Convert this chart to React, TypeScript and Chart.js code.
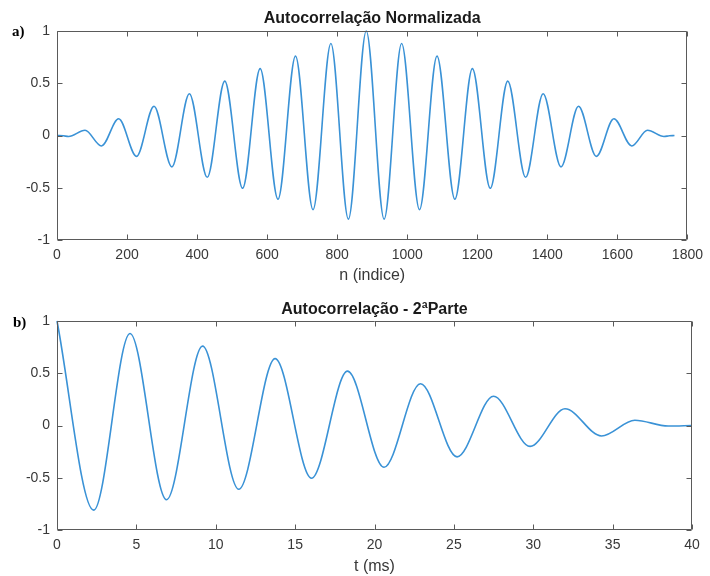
import React, { useEffect, useRef } from "react";
import { Chart, registerables } from "chart.js";

Chart.register(...registerables);

// ---- Data ----
// Panel a) Autocorrelação Normalizada: sample index n vs normalized autocorrelation
const nIndex = [
  0, 18, 33, 80, 127, 176, 227, 277, 328, 378, 429, 479, 530, 580, 631, 681, 731,
  782, 832, 883, 934, 984, 1035, 1085, 1136, 1186, 1237, 1287, 1338, 1388, 1439,
  1489, 1540, 1590, 1641, 1686, 1733, 1748, 1763,
];
const acNorm = [
  0, -0.003, -0.01, 0.05, -0.1, 0.16, -0.2, 0.28, -0.3, 0.4, -0.4, 0.52, -0.505,
  0.64, -0.61, 0.76, -0.71, 0.88, -0.8, 1.0, -0.8, 0.88, -0.71, 0.76, -0.61, 0.64,
  -0.505, 0.52, -0.4, 0.4, -0.3, 0.28, -0.2, 0.16, -0.1, 0.05, -0.01, -0.003, 0,
];

// Panel b) Autocorrelação - 2ªParte: time in ms vs autocorrelation
const tMs = [
  0, 2.31, 4.6, 6.9, 9.17, 11.45, 13.74, 16.03, 18.3, 20.6, 22.9, 25.2, 27.5, 29.8,
  32.0, 34.3, 36.4, 38.5, 40,
];
const acPart2 = [
  1.0, -0.81, 0.88, -0.71, 0.76, -0.61, 0.64, -0.505, 0.52, -0.4, 0.4, -0.3, 0.28,
  -0.2, 0.16, -0.1, 0.05, -0.005, 0,
];

// Tick labels
const xTicksA = [0, 200, 400, 600, 800, 1000, 1200, 1400, 1600, 1800];
const xTicksB = [0, 5, 10, 15, 20, 25, 30, 35, 40];
const yTicks = [-1, -0.5, 0, 0.5, 1];

// Text
const titleA = "Autocorrelação Normalizada";
const titleB = "Autocorrelação - 2ªParte";
const xLabelA = "n (indice)";
const xLabelB = "t (ms)";

// ---- Styles ----
const LINE_COLOR = "#3a92d6";
const AXIS_COLOR = "#5a5a5a";
const TEXT_COLOR = "#383838";
const SANS = "Arial, 'Liberation Sans', Helvetica, sans-serif";
const SERIF = "'Times New Roman', 'Liberation Serif', serif";

const framePlugin = {
  id: "matlabFrame",
  afterDraw(chart: any, _args: any, opts: any) {
    const { ctx, chartArea } = chart;
    const { left, right, top, bottom } = chartArea;
    const x = chart.scales.x;
    const y = chart.scales.y;
    ctx.save();
    ctx.strokeStyle = AXIS_COLOR;
    ctx.lineWidth = 1;
    const L = Math.round(left) + 0.5;
    const R = Math.round(right) - 0.5;
    const T = Math.round(top) + 0.5;
    const B = Math.round(bottom) - 0.5;
    ctx.beginPath();
    ctx.rect(L, T, R - L, B - T);
    ctx.stroke();
    const tl = 5;
    ctx.beginPath();
    x.ticks.forEach((t: any) => {
      const px = Math.round(x.getPixelForValue(t.value)) + 0.5;
      ctx.moveTo(px, B);
      ctx.lineTo(px, B - tl);
      ctx.moveTo(px, T);
      ctx.lineTo(px, T + tl);
    });
    y.ticks.forEach((t: any) => {
      const py = Math.round(y.getPixelForValue(t.value)) + 0.5;
      ctx.moveTo(L, py);
      ctx.lineTo(L + tl, py);
      ctx.moveTo(R, py);
      ctx.lineTo(R - tl, py);
    });
    ctx.stroke();

    const cx = (left + right) / 2;
    ctx.fillStyle = "#1a1a1a";
    ctx.textAlign = "center";
    ctx.textBaseline = "middle";
    ctx.font = `bold 16px ${SANS}`;
    ctx.fillText(opts.title, cx, opts.titleY);
    ctx.fillStyle = TEXT_COLOR;
    ctx.font = `16px ${SANS}`;
    ctx.fillText(opts.xTitle, cx, opts.xTitleY);
    ctx.fillStyle = "#000";
    ctx.textAlign = "left";
    ctx.font = `bold 15px ${SERIF}`;
    ctx.fillText(opts.panel, opts.panelX, opts.panelY);
    ctx.restore();
  },
};

function makeConfig(
  xs: number[],
  ys: number[],
  xTicks: number[],
  xMin: number,
  xMax: number,
  xScaleHeight: number,
  padRight: number,
  frame: any
): any {
  return {
    type: "line",
    data: {
      datasets: [
        {
          data: xs.map((v, i) => ({ x: v, y: ys[i] })),
          borderColor: LINE_COLOR,
          borderWidth: 1.6,
          pointRadius: 0,
          fill: false,
          cubicInterpolationMode: "monotone",
          clip: false,
        },
      ],
    },
    options: {
      responsive: false,
      animation: false,
      events: [],
      layout: { padding: { top: 31, right: padRight, left: 0, bottom: 0 } },
      plugins: {
        legend: { display: false },
        tooltip: { enabled: false },
        title: { display: false },
        matlabFrame: frame,
      },
      scales: {
        x: {
          type: "linear",
          min: xMin,
          max: xMax,
          grid: { display: false, drawTicks: false },
          border: { display: false },
          afterBuildTicks: (scale: any) => {
            scale.ticks = xTicks.map((v) => ({ value: v }));
          },
          afterFit: (scale: any) => {
            scale.height = xScaleHeight;
          },
          ticks: {
            autoSkip: false,
            maxRotation: 0,
            padding: 7,
            color: TEXT_COLOR,
            font: { family: SANS, size: 14 },
            callback: (v: any) => String(v),
          },
        },
        y: {
          type: "linear",
          min: -1,
          max: 1,
          grid: { display: false, drawTicks: false },
          border: { display: false },
          afterBuildTicks: (scale: any) => {
            scale.ticks = yTicks.map((v) => ({ value: v }));
          },
          afterFit: (scale: any) => {
            scale.width = 57;
          },
          ticks: {
            autoSkip: false,
            padding: 7,
            color: TEXT_COLOR,
            font: { family: SANS, size: 14 },
            callback: (v: any) => String(v),
          },
        },
      },
    },
    plugins: [framePlugin],
  };
}

export default function App() {
  const refA = useRef<HTMLCanvasElement | null>(null);
  const refB = useRef<HTMLCanvasElement | null>(null);

  useEffect(() => {
    const chartA = new Chart(
      refA.current as HTMLCanvasElement,
      makeConfig(nIndex, acNorm, xTicksA, 0, 1800, 50, 17, {
        title: titleA,
        titleY: 19,
        xTitle: xLabelA,
        xTitleY: 276,
        panel: "a)",
        panelX: 12,
        panelY: 32,
      })
    );
    const chartB = new Chart(
      refB.current as HTMLCanvasElement,
      makeConfig(tMs, acPart2, xTicksB, 0, 40, 46, 18, {
        title: titleB,
        titleY: 20,
        xTitle: xLabelB,
        xTitleY: 277,
        panel: "b)",
        panelX: 13,
        panelY: 33,
      })
    );
    return () => {
      chartA.destroy();
      chartB.destroy();
    };
  }, []);

  return (
    <div
      style={{
        position: "absolute",
        left: 0,
        top: 0,
        width: 710,
        height: 576,
        background: "#fff",
      }}
    >
      <canvas
        ref={refA}
        width={710}
        height={290}
        style={{ position: "absolute", left: 0, top: 0, width: 710, height: 290 }}
      />
      <canvas
        ref={refB}
        width={710}
        height={286}
        style={{ position: "absolute", left: 0, top: 290, width: 710, height: 286 }}
      />
    </div>
  );
}
